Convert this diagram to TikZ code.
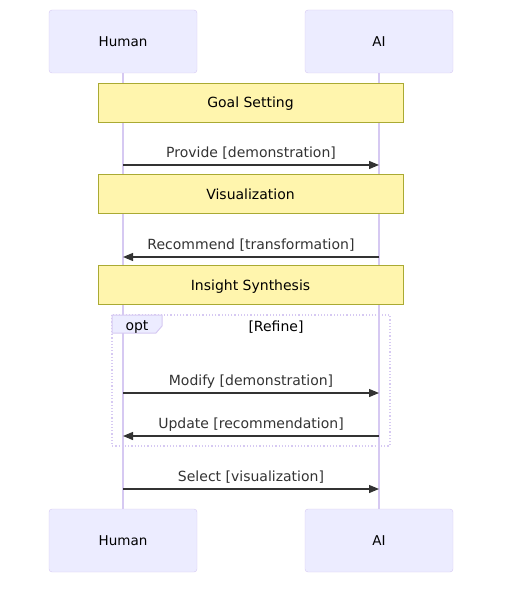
\documentclass[tikz,border=0pt]{standalone}
\usepackage{fontspec}
\setmainfont{DejaVu Sans}
\usetikzlibrary{arrows.meta}
\definecolor{actorfill}{HTML}{ECECFF}
\definecolor{actorline}{HTML}{D6C9F2}
\definecolor{notefill}{HTML}{FFF5AD}
\definecolor{noteline}{HTML}{AAAA33}
\definecolor{msgcol}{HTML}{333333}
\begin{document}
\begin{tikzpicture}[x=1pt,y=-1pt,
  actor/.style={rectangle,rounded corners=3pt,draw=actorline,fill=actorfill,minimum width=148pt,minimum height=63pt,text depth=0pt,font=\fontsize{13.5}{16}\selectfont},
  note/.style={rectangle,draw=noteline,fill=notefill,minimum width=305pt,minimum height=39pt,text depth=0pt,font=\fontsize{14}{16}\selectfont},
  lifeline/.style={draw=actorline,line width=1.2pt},
  msg/.style={draw=msgcol,line width=1.2pt,-{Triangle[length=10pt,width=8pt]}},
  msglabel/.style={anchor=base,yshift=7.5pt,text=msgcol,font=\fontsize{14}{16}\selectfont},
  every node/.style={inner sep=0pt}]
\useasboundingbox (0,0) rectangle (510,593);

\node[actor] (h1) at (123,41.5) {Human};
\node[actor] (a1) at (379,41.5) {AI};
\node[actor] (h2) at (123,540.5) {Human};
\node[actor] (a2) at (379,540.5) {AI};
\draw[lifeline] (h1.south) -- (h2.north);
\draw[lifeline] (a1.south) -- (a2.north);

\node[note] (goal) at (250.5,102.5) {Goal Setting};
\node[note] (vis) at (250.5,194) {Visualization};
\node[note] (ins) at (250.5,285) {Insight Synthesis};

\draw[actorline,line width=1.2pt,dash pattern=on 1.2pt off 2pt] (112,315) rectangle (390,446);
\draw[actorline,fill=actorfill,line width=1pt] (112,315) -- (162,315) -- (162,326) -- (156,333) -- (112,333) -- cycle;
\node[font=\fontsize{14}{16}\selectfont,text depth=0pt] (opt) at (137,326) {opt};
\node[font=\fontsize{14}{16}\selectfont] (refine) at (276,327) {[Refine]};

\coordinate (hp) at (123,165); \coordinate (ap) at (379,165);
\coordinate (hr) at (123,257); \coordinate (ar) at (379,257);
\coordinate (hm) at (123,393); \coordinate (am) at (379,393);
\coordinate (hu) at (123,436); \coordinate (au) at (379,436);
\coordinate (hs) at (123,489); \coordinate (as) at (379,489);

\draw[msg] (hp) -- (ap) node[midway,msglabel] {Provide [demonstration]};
\draw[msg] (ar) -- (hr) node[midway,msglabel] {Recommend [transformation]};
\draw[msg] (hm) -- (am) node[midway,msglabel] {Modify [demonstration]};
\draw[msg] (au) -- (hu) node[midway,msglabel] {Update [recommendation]};
\draw[msg] (hs) -- (as) node[midway,msglabel] {Select [visualization]};
\end{tikzpicture}
\end{document}
